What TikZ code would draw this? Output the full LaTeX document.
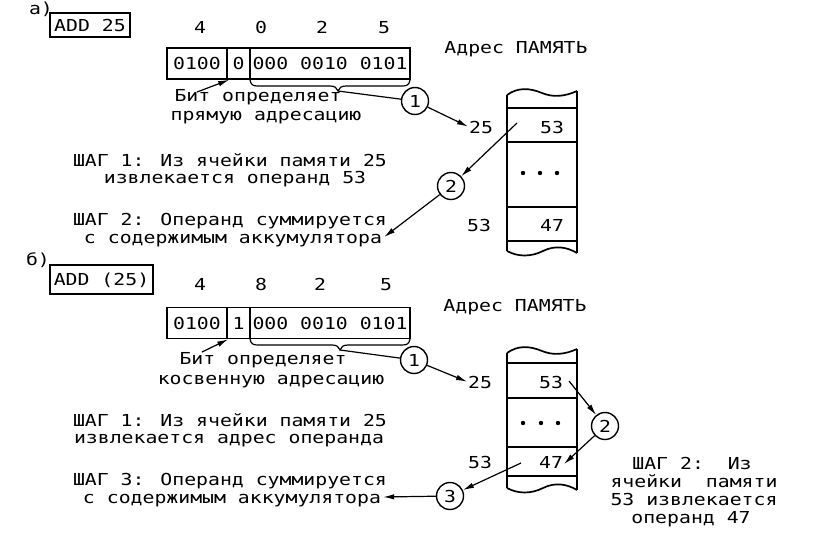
\documentclass[tikz,border=0pt]{standalone}
\usepackage{fontspec}
\newfontfamily\plotfont[FakeStretch=1.2]{DejaVu Sans Mono}
\usetikzlibrary{arrows.meta}
\begin{document}
\begin{tikzpicture}[x=1pt,y=-1pt,
  txt/.style={font=\plotfont\fontsize{16.5}{18}\selectfont, inner sep=0pt, text height=12pt, text depth=0pt},
  boxed/.style={txt, draw, line width=1.6pt},
  cell/.style={boxed, minimum height=31pt},
  arr/.style={line width=1.2pt, -{Latex[length=11pt,width=5.5pt]}},
  ln/.style={line width=1.2pt},
  mem/.style={line width=1.7pt},
  circ/.style={txt, circle, draw, line width=1.4pt, minimum size=27pt}
]
\fill[white] (0,0) rectangle (833,555);
\useasboundingbox (0,0) rectangle (833,555);

% ================= (a) =================
\node[txt] (laba) at (41,8) {а)};
\node[boxed, minimum width=80pt, minimum height=24pt] (adda) at (90,25) {ADD 25};
\node[txt] (h1a) at (200,27) {4};
\node[txt] (h2a) at (261,27) {0};
\node[txt] (h3a) at (322,27) {2};
\node[txt] (h4a) at (384,27) {5};
\node[cell, minimum width=60pt] (r1a) at (197,63.5) {0100};
\node[cell, minimum width=23pt] (r2a) at (238.5,63.5) {0};
\node[cell, minimum width=160pt] (r3a) at (330,63.5) {000 0010 0101};
% brace
\draw[ln] (250,80) .. controls (251,85) and (253,86) .. (258,86) -- (330,86)
  .. controls (335,86) and (337,88) .. (338,91) .. controls (339,88) and (341,86) .. (346,86)
  -- (402,86) .. controls (407,86) and (409,85) .. (410,80);
\coordinate (bta) at (338,91);
\node[txt] (bit1a) at (258,95) {Бит определяет};
\node[txt] (bit2a) at (266,114) {прямую адресацию};
\coordinate (bsa) at (197,92);
\draw[arr] (bsa) -- ([xshift=3pt]r2a.south west);
\node[circ] (c1a) at (415,101) {1};
\draw[ln] (bta) -- (c1a);
\node[txt] (adra) at (516,47) {Адрес ПАМЯТЬ};
\node[txt] (k25a) at (481,127) {25};
\node[txt] (k53a) at (479,225) {53};
% memory column (a)
\draw[mem] (507,95) .. controls (518,87) and (530,88) .. (542,93) .. controls (554,98) and (566,96) .. (577,91);
\draw[mem] (507,95) -- (507,251);
\draw[mem] (577,91) -- (577,253);
\draw[mem] (507,251) .. controls (518,257) and (531,257) .. (543,251) .. controls (555,245) and (567,247) .. (577,253);
\draw[mem] (507,108) -- (577,108);
\draw[mem] (507,142) -- (577,142);
\draw[mem] (507,207) -- (577,207);
\draw[mem] (507,241) -- (577,241);
\node[txt] (v53a) at (552,127) {53};
\node[txt] (v47a) at (552,225) {47};
\fill (523,173) circle (2.2) (540,173) circle (2.2) (557,173) circle (2.2);
\draw[arr, shorten >=1pt] (c1a) -- (k25a.west);
\node[circ] (c2a) at (451,186) {2};
\coordinate (m53a) at (517,123);
\draw[arr] (m53a) -- (c2a);
\node[txt] (s1aa) at (230,160) {ШАГ 1: Из ячейки памяти 25};
\node[txt] (s1ba) at (235,177) {извлекается операнд 53};
\node[txt] (s2aa) at (230,219) {ШАГ 2: Операнд суммируется};
\node[txt] (acca) at (233,237) {с содержимым аккумулятора};
\draw[arr] (c2a) -- ([xshift=2pt]acca.east);

% ================= (b) =================
\node[txt] (labb) at (38,259) {б)};
\node[boxed, minimum width=103pt, minimum height=29pt] (addb) at (101.5,279.5) {ADD (25)};
\node[txt] (h1b) at (200,284) {4};
\node[txt] (h2b) at (261,284) {8};
\node[txt] (h3b) at (320,284) {2};
\node[txt] (h4b) at (386,284) {5};
\node[cell, minimum width=60pt] (r1b) at (197,323) {0100};
\node[cell, minimum width=23pt] (r2b) at (238.5,323) {1};
\node[cell, minimum width=160pt] (r3b) at (330,323) {000 0010 0101};
\draw[ln] (250,339) .. controls (251,344) and (253,345) .. (258,345) -- (332,345)
  .. controls (337,345) and (339,347) .. (340,350) .. controls (341,347) and (343,345) .. (348,345)
  -- (402,345) .. controls (407,345) and (409,344) .. (410,339);
\coordinate (btb) at (340,350);
\node[txt] (bit1b) at (263,358) {Бит определяет};
\node[txt] (bit2b) at (271,378) {косвенную адресацию};
\coordinate (bsb) at (202,352);
\draw[arr] (bsb) -- ([xshift=2pt]r2b.south west);
\node[circ] (c1b) at (414,360) {1};
\draw[ln] (btb) -- (c1b);
\node[txt] (adrb) at (515,305) {Адрес ПАМЯТЬ};
\node[txt] (k25b) at (480,382) {25};
\node[txt] (k53b) at (480,462) {53};
% memory column (b)
\draw[mem] (507,353) .. controls (518,345) and (530,346) .. (542,351) .. controls (554,356) and (566,354) .. (577,349);
\draw[mem] (507,353) -- (507,488);
\draw[mem] (577,349) -- (577,490);
\draw[mem] (507,488) .. controls (518,494) and (531,494) .. (543,488) .. controls (555,482) and (567,484) .. (577,490);
\draw[mem] (507,363) -- (577,363);
\draw[mem] (507,398) -- (577,398);
\draw[mem] (507,447) -- (577,447);
\draw[mem] (507,476) -- (577,476);
\node[txt] (v53b) at (551,382) {53};
\node[txt] (v47b) at (551,462) {47};
\fill (523,423) circle (2.2) (541,423) circle (2.2) (558,423) circle (2.2);
\draw[arr, shorten >=1pt] (c1b) -- (k25b.west);
\node[circ] (c2b) at (605,426) {2};
\coordinate (m53b) at (569,381);
\draw[arr] (m53b) -- (c2b);
\coordinate (m47b) at (564,464);
\draw[arr] (c2b) -- (m47b);
\node[circ] (c3b) at (450,496) {3};
\coordinate (s47b) at (521,463);
\draw[arr] (s47b) -- (c3b);
\node[txt] (s1ab) at (230,420) {ШАГ 1: Из ячейки памяти 25};
\node[txt] (s1bb) at (229,437) {извлекается адрес операнда};
\node[txt] (s3ab) at (230,479) {ШАГ 3: Операнд суммируется};
\node[txt] (accb) at (232,497) {с содержимым аккумулятора};
\draw[arr] (c3b) -- ([xshift=2pt]accb.east);
\node[txt] (r1) at (692,463) {ШАГ 2:\ \ Из};
\node[txt] (r2) at (694,481) {ячейки\ \ памяти};
\node[txt] (r3) at (694,499) {53 извлекается};
\node[txt] (r4) at (691,517) {операнд 47};
\end{tikzpicture}
\end{document}
